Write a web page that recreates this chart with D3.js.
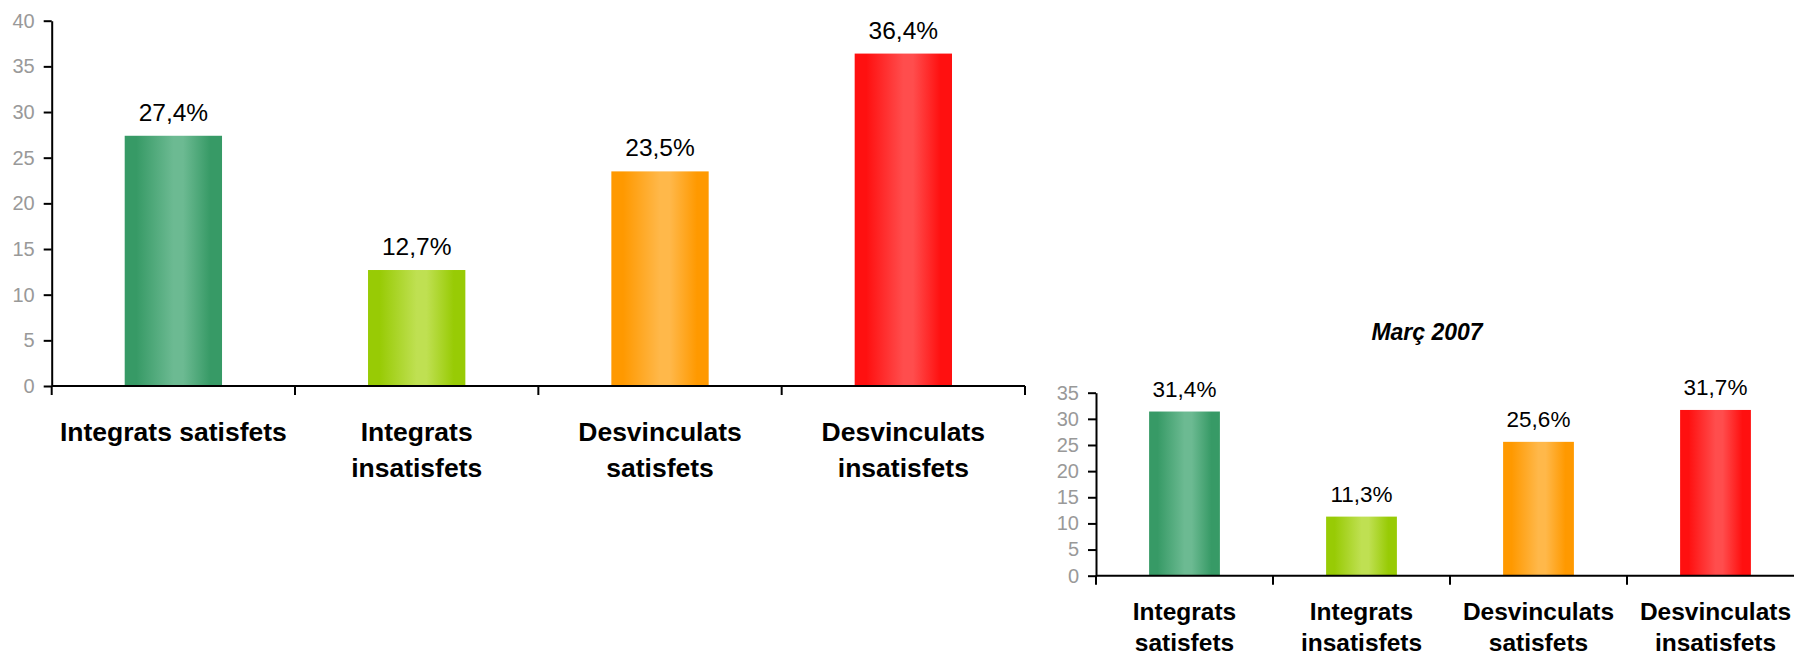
<!DOCTYPE html>
<html><head><meta charset="utf-8">
<script src="https://cdn.jsdelivr.net/npm/d3@7/dist/d3.min.js"></script>
<style>body{margin:0;background:#fff}svg{display:block}text{font-family:"Liberation Sans",Arial,sans-serif}</style>
</head><body>
<svg id="c" width="1794" height="657"></svg>
<script>
const categories = ["Integrats satisfets","Integrats insatisfets","Desvinculats satisfets","Desvinculats insatisfets"];
const leftLabels = [["Integrats satisfets"],["Integrats","insatisfets"],["Desvinculats","satisfets"],["Desvinculats","insatisfets"]];
const rightLabels = [["Integrats","satisfets"],["Integrats","insatisfets"],["Desvinculats","satisfets"],["Desvinculats","insatisfets"]];
const valuesMain = [27.4, 12.7, 23.5, 36.4];
const valuesMarch2007 = [31.4, 11.3, 25.6, 31.7];
const leftTicks = [0,5,10,15,20,25,30,35,40];
const rightTicks = [0,5,10,15,20,25,30,35];
const rightTitle = "Març 2007";
const barColors = [["#379a66","#6cba92"],["#98cb05","#bfe052"],["#ff9900","#ffb84a"],["#ff1010","#ff4d4d"]];

const svg = d3.select("#c");
const defs = svg.append("defs");
barColors.forEach((c,i)=>{
  const g = defs.append("linearGradient").attr("id","g"+i).attr("x1","0").attr("x2","1").attr("y1","0").attr("y2","0");
  g.append("stop").attr("offset","0").attr("stop-color",c[0]);
  g.append("stop").attr("offset","0.12").attr("stop-color",c[0]);
  g.append("stop").attr("offset","0.5").attr("stop-color",c[1]);
  g.append("stop").attr("offset","0.6").attr("stop-color",c[1]);
  g.append("stop").attr("offset","0.88").attr("stop-color",c[0]);
  g.append("stop").attr("offset","1").attr("stop-color",c[0]);
});

function drawChart(opt){
  const g = svg.append("g");
  const x = d3.scaleBand().domain(categories).range([opt.x0, opt.x1]).paddingInner(0).paddingOuter(0);
  const y = d3.scaleLinear().domain([0, opt.ymax]).range([opt.yb, opt.yt]);
  const bw = x.bandwidth()*0.4;
  g.selectAll("rect.bar").data(opt.values).enter().append("rect")
    .attr("x",(d,i)=>x(categories[i])+x.bandwidth()/2-bw/2)
    .attr("y",d=>y(d)).attr("width",bw).attr("height",d=>y(0)-y(d))
    .attr("fill",(d,i)=>"url(#g"+i+")");
  g.selectAll("text.val").data(opt.values).enter().append("text")
    .attr("x",(d,i)=>x(categories[i])+x.bandwidth()/2)
    .attr("y",d=>y(d)-15).attr("text-anchor","middle")
    .attr("font-size",opt.valSize).attr("fill","#000")
    .text(d=>d.toFixed(1).replace(".",",")+"%");
  const ya = g.append("g").attr("transform","translate("+opt.x0+",0)")
    .call(d3.axisLeft(y).tickValues(opt.ticks).tickSize(8).tickSizeOuter(0).tickPadding(9));
  ya.select(".domain").attr("stroke","#000").attr("stroke-width",2);
  ya.selectAll(".tick line").attr("stroke","#000").attr("stroke-width",2);
  ya.selectAll(".tick text").attr("fill","#999").attr("font-size",20).attr("font-family","Liberation Sans, Arial, sans-serif");
  const xEnd = opt.clipEnd ? Math.min(opt.x1, 1794) : opt.x1;
  g.append("line").attr("x1",opt.x0).attr("x2",xEnd).attr("y1",y(0)).attr("y2",y(0)).attr("stroke","#000").attr("stroke-width",2);
  const bounds = categories.map(c=>x(c)).concat([opt.x1]);
  g.selectAll("line.xt").data(bounds).enter().append("line")
    .attr("x1",d=>d).attr("x2",d=>d).attr("y1",y(0)).attr("y2",y(0)+9)
    .attr("stroke","#000").attr("stroke-width",2);
  opt.labels.forEach((lines,i)=>{
    const t = g.append("text").attr("text-anchor","middle").attr("font-weight","bold")
      .attr("font-size",opt.catSize).attr("fill","#000");
    lines.forEach((l,j)=>{
      t.append("tspan").attr("x",x(categories[i])+x.bandwidth()/2).attr("y",opt.catY+j*opt.catLH).text(l);
    });
  });
  return {x,y};
}

drawChart({x0:51.7,x1:1025,yb:386,yt:20.7,ymax:40,ticks:leftTicks,values:valuesMain,
  labels:leftLabels,valSize:24.5,catSize:26.5,catY:441,catLH:36});
drawChart({x0:1096,x1:1804,yb:575.7,yt:392.7,ymax:35,ticks:rightTicks,values:valuesMarch2007,
  labels:rightLabels,valSize:22.5,catSize:24.5,catY:620,catLH:30.5,clipEnd:true});

svg.append("text").attr("x",1427).attr("y",340).attr("text-anchor","middle")
  .attr("font-weight","bold").attr("font-style","italic").attr("font-size",23).text(rightTitle);
</script>
</body></html>
